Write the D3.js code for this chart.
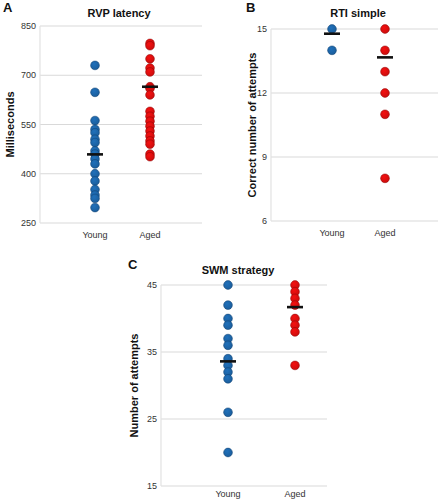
<!DOCTYPE html>
<html>
<head>
<meta charset="utf-8">
<script src="https://cdn.jsdelivr.net/npm/d3@7"></script>
<style>
  body { margin: 0; background: #fff; }
  text { font-family: "Liberation Sans", Arial, sans-serif; }
  .tick-label { font-size: 9px; fill: #333; }
  .panel-title { font-size: 11px; font-weight: bold; fill: #111; }
  .axis-title { font-size: 11px; font-weight: bold; fill: #111; }
  .panel-letter { font-size: 13px; font-weight: bold; fill: #111; }
</style>
</head>
<body>
<div id="chart"></div>
<script>
const groups = ["Young", "Aged"];

// A: RVP latency (ms)
const rvpYoung = [730, 648, 562, 535, 525, 505, 495, 470, 460, 445, 430, 400, 378, 352, 335, 325, 297];
const rvpAged = [797, 790, 750, 722, 710, 665, 660, 640, 590, 575, 560, 545, 530, 515, 500, 490, 460, 452];
const rvpMeans = [459, 665];
const rvpTicks = [250, 400, 550, 700, 850];

// B: RTI simple
const rtiYoung = [15, 14];
const rtiAged = [15, 14, 13, 12, 11, 8];
const rtiMeans = [14.78, 13.67];
const rtiTicks = [6, 9, 12, 15];

// C: SWM strategy
const swmYoung = [45, 42, 40, 39, 37, 36, 34, 33, 32, 31, 26, 20];
const swmAged = [45, 44, 43, 42, 40, 39, 38, 33];
const swmMeans = [33.6, 41.7];
const swmTicks = [15, 25, 35, 45];

const colors = {Young: "#1b5e9c", Aged: "#cc0d0d"};
const strokes = {Young: "#0f3f6e", Aged: "#8e0505"};

const svg = d3.select("#chart")
    .append("svg")
    .attr("width", 441)
    .attr("height", 502);

// gradients for the shaded dots
const defs = svg.append("defs");
groups.forEach(g => {
    const grad = defs.append("radialGradient")
        .attr("id", "grad-" + g)
        .attr("cx", "40%").attr("cy", "35%").attr("r", "65%");
    grad.append("stop").attr("offset", "0%").attr("stop-color", d3.color(colors[g]).brighter(0.5));
    grad.append("stop").attr("offset", "100%").attr("stop-color", colors[g]);
});

function drawPanel(p) {
    const y = d3.scaleLinear()
        .domain(p.domain)
        .range([p.bottom, p.top]);
    const x = d3.scalePoint()
        .domain(groups)
        .range([p.youngX, p.agedX]);

    const g = svg.append("g");

    // gridlines
    g.selectAll("line.grid")
        .data(p.ticks)
        .join("line")
        .attr("class", "grid")
        .attr("x1", p.axisX)
        .attr("x2", p.endX)
        .attr("y1", d => y(d))
        .attr("y2", d => y(d))
        .attr("stroke", "#d9d9d9")
        .attr("stroke-width", 1.2);

    // vertical axis line
    g.append("line")
        .attr("x1", p.axisX).attr("x2", p.axisX)
        .attr("y1", p.top).attr("y2", p.bottom)
        .attr("stroke", "#e2e2e2")
        .attr("stroke-width", 1.2);

    // tick labels
    g.selectAll("text.tick-label")
        .data(p.ticks)
        .join("text")
        .attr("class", "tick-label")
        .attr("x", p.axisX - 4)
        .attr("y", d => y(d))
        .attr("dy", "0.35em")
        .attr("text-anchor", "end")
        .text(d => d);

    // category labels
    g.selectAll("text.cat")
        .data(groups)
        .join("text")
        .attr("class", "tick-label")
        .attr("x", d => x(d))
        .attr("y", p.bottom + p.catGap)
        .attr("text-anchor", "middle")
        .text(d => d);

    // dots
    const pts = [];
    groups.forEach((grp, i) => p.values[i].forEach(v => pts.push({grp: grp, v: v})));
    g.selectAll("circle")
        .data(pts)
        .join("circle")
        .attr("cx", d => x(d.grp))
        .attr("cy", d => y(d.v))
        .attr("r", 4.4)
        .attr("fill", d => "url(#grad-" + d.grp + ")")
        .attr("stroke", d => strokes[d.grp])
        .attr("stroke-width", 0.5);

    // mean bars
    g.selectAll("line.mean")
        .data(groups)
        .join("line")
        .attr("class", "mean")
        .attr("x1", d => x(d) - 8)
        .attr("x2", d => x(d) + 8)
        .attr("y1", (d, i) => y(p.means[i]))
        .attr("y2", (d, i) => y(p.means[i]))
        .attr("stroke", "#111")
        .attr("stroke-width", 2.6);

    // title
    g.append("text")
        .attr("class", "panel-title")
        .attr("x", p.titleX)
        .attr("y", p.titleY)
        .attr("text-anchor", "middle")
        .text(p.title);

    // panel letter
    g.append("text")
        .attr("class", "panel-letter")
        .attr("x", p.letterX)
        .attr("y", p.letterY)
        .text(p.letter);

    // y axis title
    g.append("text")
        .attr("class", "axis-title")
        .attr("transform", `translate(${p.labelX},${(p.top + p.bottom) / 2}) rotate(-90)`)
        .attr("text-anchor", "middle")
        .attr("dy", "0.35em")
        .text(p.yLabel);
}

drawPanel({
    letter: "A", letterX: 3, letterY: 12,
    title: "RVP latency", titleX: 119, titleY: 17,
    yLabel: "Milliseconds", labelX: 10,
    domain: [250, 850], ticks: rvpTicks,
    top: 26, bottom: 223, catGap: 15,
    axisX: 40, endX: 202, youngX: 95, agedX: 150,
    values: [rvpYoung, rvpAged], means: rvpMeans
});

drawPanel({
    letter: "B", letterX: 246, letterY: 12,
    title: "RTI simple", titleX: 358, titleY: 17,
    yLabel: "Correct number of attempts", labelX: 252,
    domain: [6, 15], ticks: rtiTicks,
    top: 29, bottom: 221, catGap: 15,
    axisX: 271, endX: 438, youngX: 332, agedX: 385,
    values: [rtiYoung, rtiAged], means: rtiMeans
});

drawPanel({
    letter: "C", letterX: 128, letterY: 269,
    title: "SWM strategy", titleX: 238, titleY: 274,
    yLabel: "Number of attempts", labelX: 134,
    domain: [15, 45], ticks: swmTicks,
    top: 285, bottom: 486, catGap: 11,
    axisX: 161, endX: 327, youngX: 228, agedX: 295,
    values: [swmYoung, swmAged], means: swmMeans
});
</script>
</body>
</html>
